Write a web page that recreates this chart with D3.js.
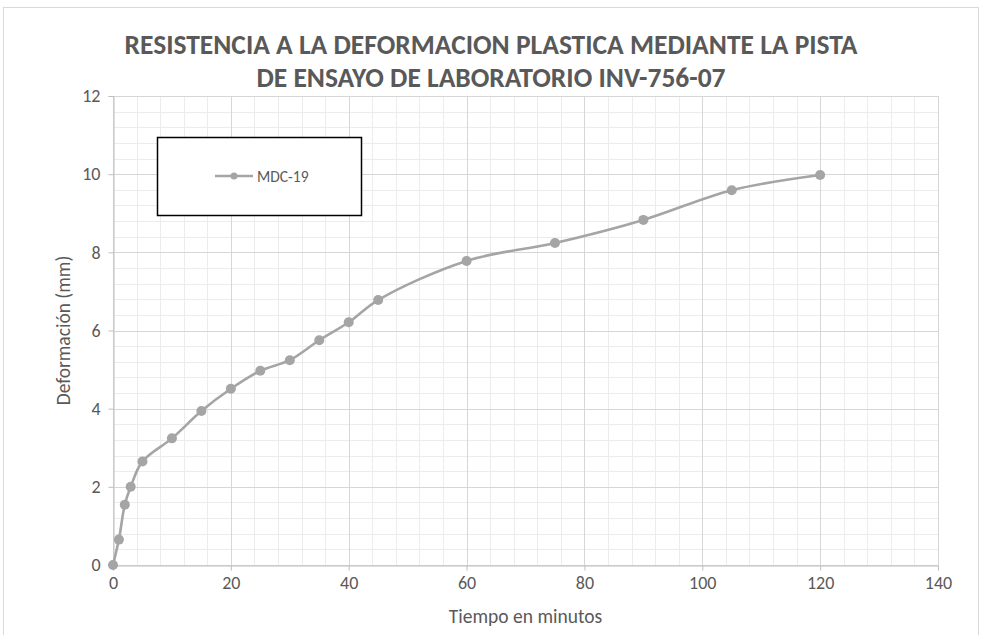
<!DOCTYPE html>
<html>
<head>
<meta charset="utf-8">
<script src="https://cdn.jsdelivr.net/npm/d3@7"></script>
<style>
  html, body { margin: 0; padding: 0; background: #fff; }
  svg { display: block; }
  text { font-family: Carlito, Calibri, "Liberation Sans Narrow", "Open Sans", sans-serif; }
</style>
</head>
<body>
<svg id="chart" width="982" height="635"></svg>
<script>
// Tiempo (min) y deformación (mm) del ensayo de pista MDC-19
const tiempos = [0, 1, 2, 3, 5, 10, 15, 20, 25, 30, 35, 40, 45, 60, 75, 90, 105, 120];
const deformaciones = [0, 0.65, 1.54, 2.0, 2.65, 3.24, 3.94, 4.51, 4.97, 5.24, 5.75, 6.21, 6.78, 7.78, 8.24, 8.83, 9.59, 9.98];
const serieNombre = "MDC-19";
const xTicks = [0, 20, 40, 60, 80, 100, 120, 140];
const yTicks = [0, 2, 4, 6, 8, 10, 12];
const tituloLineas = ["RESISTENCIA A LA DEFORMACION PLASTICA MEDIANTE LA PISTA", "DE ENSAYO DE LABORATORIO INV-756-07"];
const xTitulo = "Tiempo en minutos";
const yTitulo = "Deformación (mm)";

const svg = d3.select("#chart");
const plotLeft = 113, plotRight = 938, plotTop = 96, plotBottom = 565;

const x = d3.scaleLinear().domain([0, 140]).range([plotLeft, plotRight]);
const y = d3.scaleLinear().domain([0, 12]).range([plotBottom, plotTop]);

// Marco exterior del gráfico
svg.append("rect")
  .attr("x", 3.5).attr("y", 7.5).attr("width", 975).attr("height", 640)
  .attr("fill", "#fff").attr("stroke", "#d9d9d9").attr("stroke-width", 1);

// Cuadrícula secundaria
const xMinor = d3.range(0, 140.001, 4);
const yMinor = d3.range(0, 12.001, 0.4);
const grid = svg.append("g");
grid.selectAll("line.xm").data(xMinor).join("line")
  .attr("x1", d => Math.round(x(d)) + 0.5).attr("x2", d => Math.round(x(d)) + 0.5)
  .attr("y1", plotTop).attr("y2", plotBottom)
  .attr("stroke", "#ececec").attr("stroke-width", 1);
grid.selectAll("line.ym").data(yMinor).join("line")
  .attr("y1", d => Math.round(y(d)) + 0.5).attr("y2", d => Math.round(y(d)) + 0.5)
  .attr("x1", plotLeft).attr("x2", plotRight)
  .attr("stroke", "#ececec").attr("stroke-width", 1);

// Cuadrícula principal
grid.selectAll("line.xM").data(xTicks).join("line")
  .attr("x1", d => Math.round(x(d)) + 0.5).attr("x2", d => Math.round(x(d)) + 0.5)
  .attr("y1", plotTop).attr("y2", plotBottom)
  .attr("stroke", "#d6d6d6").attr("stroke-width", 1);
grid.selectAll("line.yM").data(yTicks).join("line")
  .attr("y1", d => Math.round(y(d)) + 0.5).attr("y2", d => Math.round(y(d)) + 0.5)
  .attr("x1", plotLeft).attr("x2", plotRight)
  .attr("stroke", "#d6d6d6").attr("stroke-width", 1);

// Ejes
const xAxis = svg.append("g")
  .attr("transform", `translate(0,${plotBottom + 0.5})`)
  .call(d3.axisBottom(x).tickValues(xTicks).tickSize(5).tickPadding(6).tickFormat(d3.format("d")));
const yAxis = svg.append("g")
  .attr("transform", `translate(${plotLeft + 0.5},0)`)
  .call(d3.axisLeft(y).tickValues(yTicks).tickSize(5).tickPadding(8).tickFormat(d3.format("d")));
[xAxis, yAxis].forEach(g => {
  g.select(".domain").attr("stroke", "#bfbfbf");
  g.selectAll(".tick line").attr("stroke", "#bfbfbf");
  g.selectAll(".tick text")
    .attr("fill", "#595959")
    .style("font-size", "18px")
    .style("font-family", "Carlito, Calibri, 'Open Sans', sans-serif");
});

// Serie
const datos = tiempos.map((t, i) => ({ t, d: deformaciones[i] }));
const linea = d3.line().x(p => x(p.t)).y(p => y(p.d)).curve(d3.curveCatmullRom.alpha(0.5));
svg.append("path").datum(datos)
  .attr("d", linea).attr("fill", "none")
  .attr("stroke", "#a5a5a5").attr("stroke-width", 2.6)
  .attr("stroke-linejoin", "round").attr("stroke-linecap", "round");
svg.selectAll("circle.pt").data(datos).join("circle")
  .attr("class", "pt")
  .attr("cx", p => x(p.t)).attr("cy", p => y(p.d)).attr("r", 5)
  .attr("fill", "#a5a5a5");

// Título
svg.selectAll("text.titulo").data(tituloLineas).join("text")
  .attr("class", "titulo")
  .attr("x", 491).attr("y", (d, i) => 54 + i * 33)
  .attr("text-anchor", "middle")
  .attr("fill", "#595959")
  .style("font-size", "27.5px").style("font-weight", "bold")
  .text(d => d);

// Títulos de ejes
svg.append("text")
  .attr("x", (plotLeft + plotRight) / 2).attr("y", 623)
  .attr("text-anchor", "middle").attr("fill", "#595959")
  .style("font-size", "19.5px").text(xTitulo);
svg.append("text")
  .attr("transform", `translate(70,${(plotTop + plotBottom) / 2}) rotate(-90)`)
  .attr("text-anchor", "middle").attr("fill", "#595959")
  .style("font-size", "19.5px").text(yTitulo);

// Leyenda
const leg = svg.append("g");
leg.append("rect")
  .attr("x", 157.5).attr("y", 137.5).attr("width", 204).attr("height", 78)
  .attr("fill", "#fff").attr("stroke", "#000").attr("stroke-width", 1.5);
leg.append("line")
  .attr("x1", 215).attr("x2", 253).attr("y1", 176).attr("y2", 176)
  .attr("stroke", "#a5a5a5").attr("stroke-width", 2.6);
leg.append("circle").attr("cx", 234).attr("cy", 176).attr("r", 3.5).attr("fill", "#a5a5a5");
leg.append("text")
  .attr("x", 257).attr("y", 181.5).attr("fill", "#595959")
  .style("font-size", "15.5px").text(serieNombre);
</script>
</body>
</html>
